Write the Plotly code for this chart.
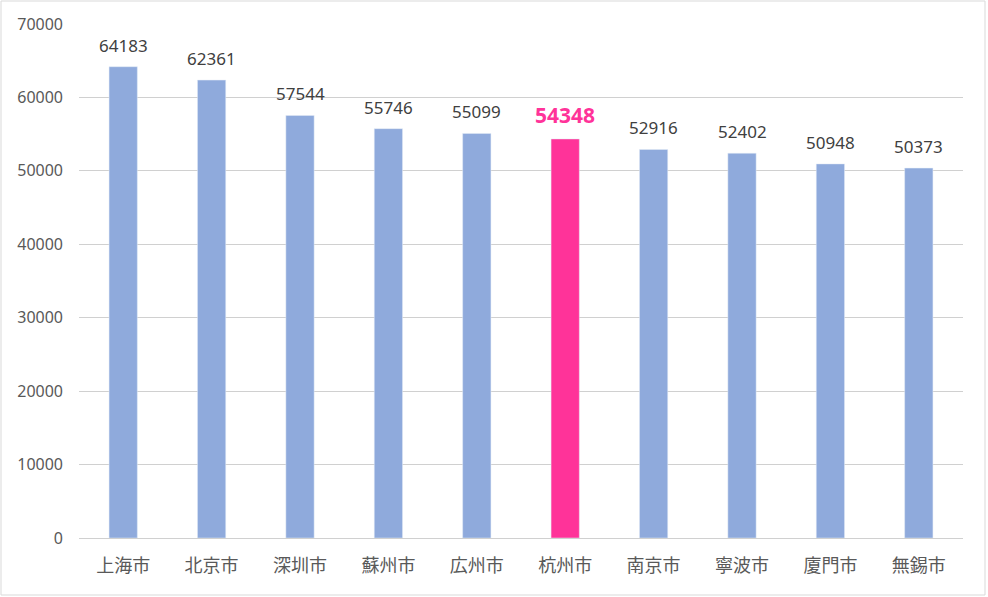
import plotly.graph_objects as go

cities = ["上海市", "北京市", "深圳市", "蘇州市", "広州市", "杭州市", "南京市", "寧波市", "廈門市", "無錫市"]
values = [64183, 62361, 57544, 55746, 55099, 54348, 52916, 52402, 50948, 50373]
highlight = "杭州市"

W, H = 988, 597
L, R, T, B = 79, 25, 24, 59
pw, ph = W - L - R, H - T - B

base_color = "#8FAADC"
hi_color = "#FF3399"
colors = [hi_color if c == highlight else base_color for c in cities]

fig = go.Figure(go.Bar(x=cities, y=values, marker_color=colors, width=0.32, hoverinfo="x+y"))

for c, v in zip(cities, values):
    hi = c == highlight
    fig.add_annotation(
        x=c, y=v, text=(f"<b>{v}</b>" if hi else str(v)), showarrow=False,
        yanchor="bottom", yshift=8,
        font=dict(family="Noto Sans, sans-serif", size=21 if hi else 17,
                  color=hi_color if hi else "#404040"),
    )

fig.add_shape(type="rect", xref="paper", yref="paper",
              x0=(1 - L) / pw, x1=(W - 3 - L) / pw,
              y0=(H - T - B - (H - 2 - T)) / ph, y1=(H - B - 1) / ph,
              line=dict(color="#D9D9D9", width=1), layer="below")

fig.update_layout(
    width=W, height=H,
    margin=dict(l=L, r=R, t=T, b=B),
    paper_bgcolor="white", plot_bgcolor="white",
    showlegend=False,
    bargap=0.68,
    xaxis=dict(showgrid=False, showline=True, linecolor="#D0D0D0", linewidth=1,
               ticks="", ticklabelstandoff=11,
               tickfont=dict(family="Noto Sans CJK JP", size=18, color="#595959")),
    yaxis=dict(range=[0, 70000], dtick=10000, showgrid=True, gridcolor="#D0D0D0",
               gridwidth=1, zeroline=False, showline=False, ticks="",
               ticklabelstandoff=15, tickformat="d",
               tickfont=dict(family="Noto Sans, sans-serif", size=16, color="#595959")),
)

fig.write_html("out.html", config={"displayModeBar": False},
               post_script="document.body.style.margin='0';document.body.style.overflow='hidden';")
